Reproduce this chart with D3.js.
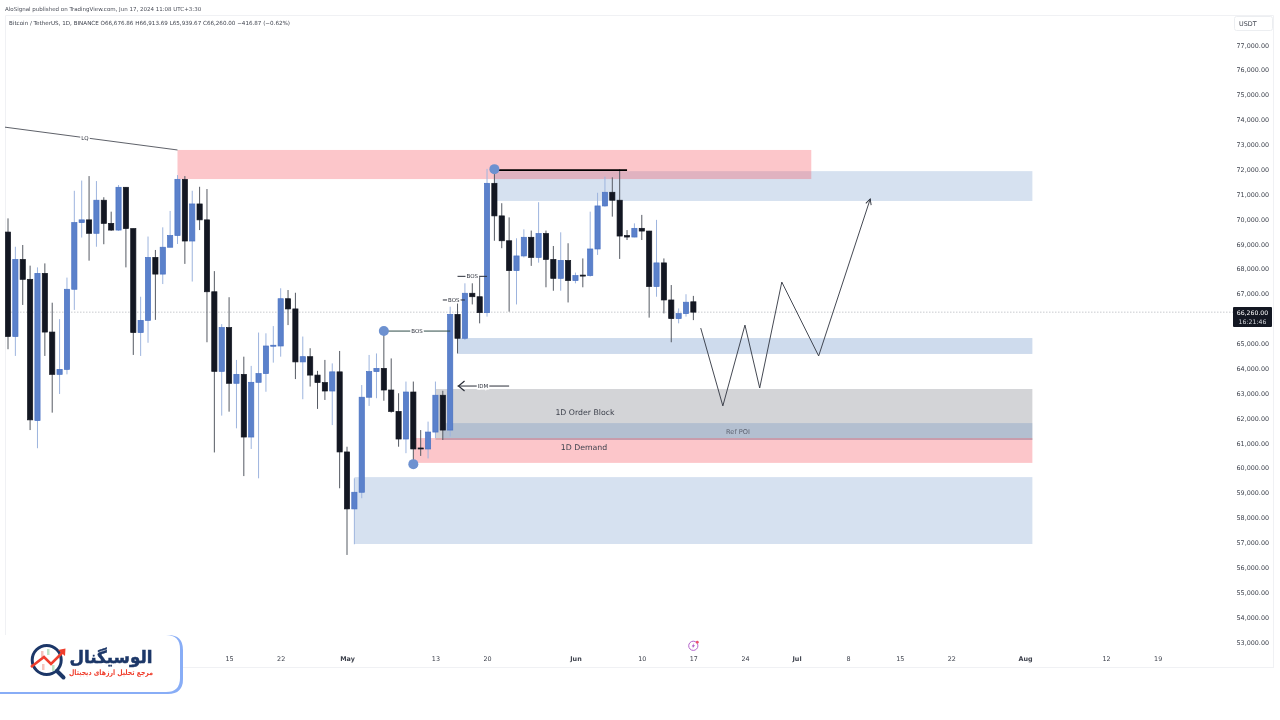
<!DOCTYPE html>
<html>
<head>
<meta charset="utf-8">
<title>BTCUSDT 1D</title>
<script src="https://cdn.jsdelivr.net/npm/d3@7"></script>
<style>
  html, body { margin: 0; padding: 0; background: #fff; }
  svg { display: block; font-family: "DejaVu Sans", sans-serif; filter: blur(0.3px); }
</style>
</head>
<body>
<div id="chart"></div>
<script>
// Daily candles, Mar 16 to Jun 17 2024
const firstDay = "2024-03-16";
const opens = [69480,65280,68380,67580,61900,67820,65460,63760,63960,67180,69860,69970,69430,70760,69830,69560,71280,69620,65440,65930,68460,67790,68870,69340,71600,69120,70610,69970,67080,63880,65640,63400,63760,61240,63440,63790,64900,64900,66800,66390,64260,64470,63730,63430,63090,63860,60640,58350,59020,62840,63870,64000,63130,62270,61160,63050,60800,60760,61440,62920,61520,66170,65210,67020,66880,66240,71440,70130,69130,67930,68520,69270,68460,69420,68380,67620,68340,67530,67750,67730,68800,70530,71080,70760,69340,69280,69630,69520,67290,68240,66750,66000,66200,66676.86];
const highs = [70030,68890,68960,68130,68060,68220,66640,65980,67650,71140,71550,71730,71530,70880,70300,71370,71290,69620,66880,69300,68760,69670,70330,71770,71730,71140,71300,71210,67910,65780,66860,64340,64470,64100,65440,65410,65700,67220,67150,67040,65280,64810,63900,64340,64200,64700,60850,59580,63330,64540,64600,65500,64400,63000,63470,63470,61520,61860,63470,63100,66480,66750,67420,67420,67690,72020,72020,70640,70070,69230,69590,69540,70680,69540,68920,69470,69030,67850,68420,70300,71060,71710,71680,72000,69560,69830,70170,69530,69970,68420,67350,66410,66980,66913.69];
const lows = [64770,64500,66550,61520,60790,64500,62220,62970,63760,66350,69260,68330,68890,68990,69530,69530,68060,64540,64500,65030,65950,67390,68870,69000,68200,67490,69560,65050,60620,62100,62260,61590,59670,60760,59580,63060,64230,64470,65740,63570,62760,63270,62370,62730,61720,59180,56500,56930,58780,62490,62800,62700,62220,60850,60590,60180,60480,60380,61190,61120,61260,64600,65140,66570,65810,66080,69130,68830,66280,66570,68460,68120,68250,67260,67120,67120,66650,67420,67260,67690,68560,70500,70100,68400,69160,69270,69160,66040,66880,66210,65050,65810,66080,65939.67];
const closes = [65280,68380,67580,61930,67820,65460,63760,63960,67180,69860,69970,69430,70760,69830,69560,71280,69620,65440,65930,68460,67790,68870,69340,71600,69120,70610,69970,67080,63880,65640,63400,63760,61240,63440,63790,64900,64930,66800,66390,64260,64470,63730,63430,63090,63860,60640,58350,59020,62840,63870,64000,63130,62270,61160,63050,60760,60760,61440,62920,61520,66170,65210,67020,66880,66240,71440,70130,69130,67930,68520,69270,68460,69420,68380,67620,68340,67530,67730,67730,68800,70530,71080,70760,69320,69280,69630,69520,67290,68240,66750,66000,66200,66660,66260];
const lastPrice = 66260;

// Axis ticks, 66,000 sits behind the last price tag
const priceTicks = [53000,54000,55000,56000,57000,58000,59000,60000,61000,62000,63000,64000,65000,67000,68000,69000,70000,71000,72000,73000,74000,75000,76000,77000];
const timeTickDates = ["2024-04-15","2024-04-22","2024-05-01","2024-05-13","2024-05-20","2024-06-01","2024-06-10","2024-06-17","2024-06-24","2024-07-01","2024-07-08","2024-07-15","2024-07-22","2024-08-01","2024-08-12","2024-08-19"];
const timeTickLabels = ["15","22","May","13","20","Jun","10","17","24","Jul","8","15","22","Aug","12","19"];
const monthLabels = ["May","Jun","Jul","Aug"];

// Drawn zones as [start, end, top price, bottom price]
const zoneGrey = ["2024-05-13","2024-08-02",63170,61120];
const zonePoi = ["2024-05-14","2024-08-02",61800,61120];
const zoneDemand = ["2024-05-10","2024-08-02",61200,60200];
const zoneRedTop = ["2024-04-08","2024-07-03",72780,71610];
const zoneBlueTop = ["2024-05-21","2024-08-02",71930,70730];
const zoneBlueMid = ["2024-05-16","2024-08-02",65220,64580];
const zoneBlueLow = ["2024-05-02","2024-08-02",59630,56940];

// Drawn lines and markers
const projectionDates = ["2024-06-18","2024-06-21","2024-06-24","2024-06-26","2024-06-29","2024-07-04","2024-07-11"];
const projectionPrices = [65620,62490,65740,63210,67470,64500,70810];
const lqDates = ["2024-03-15","2024-04-08"];
const lqPrices = [73720,72780];
const bosDates = [["2024-05-06","2024-05-15"],["2024-05-14","2024-05-17"],["2024-05-16","2024-05-20"]];
const bosPrices = [65500,66750,67700];
const highLineDates = ["2024-05-21","2024-06-08"];
const highLinePrice = 71970;
const idmDates = ["2024-05-16","2024-05-23"];
const idmPrice = 63290;
const dotDates = ["2024-05-06","2024-05-10","2024-05-21"];
const dotPrices = [65500,60150,72010];

const width = 1280;
const height = 720;

const parseDay = d3.utcParse("%Y-%m-%d");
const days = d3.utcDay.range(parseDay(firstDay), d3.utcDay.offset(parseDay(firstDay), opens.length));

const svg = d3.select("#chart")
    .append("svg")
    .attr("width", width)
    .attr("height", height);

// May 1 and Aug 1 label positions fix the time scale
const x = d3.scaleUtc()
    .domain([parseDay("2024-05-01"), parseDay("2024-08-01")])
    .range([347, 1025]);
const y = d3.scaleLinear()
    .domain([53000, 77000])
    .range([642, 45]);

const defs = svg.append("defs");
defs.append("clipPath").attr("id", "pane")
    .append("rect").attr("x", 5).attr("y", 15).attr("width", 1228).attr("height", 653);
defs.append("marker").attr("id", "open-arrow")
    .attr("viewBox", "0 0 10 10").attr("refX", 9).attr("refY", 5)
    .attr("markerUnits", "userSpaceOnUse").attr("markerWidth", 7).attr("markerHeight", 7)
    .attr("orient", "auto")
    .append("path").attr("d", "M1,1L9,5L1,9").attr("fill", "none").attr("stroke", "#2a2e39").attr("stroke-width", 1.3);

// Frame
const frameColor = "#f0f1f4";
svg.append("path")
    .attr("d", "M5.5,668V15.5H1273.5V668")
    .attr("fill", "none").attr("stroke", frameColor);
svg.append("line").attr("x1", 5).attr("x2", 1274).attr("y1", 667.5).attr("y2", 667.5).attr("stroke", frameColor);

const pane = svg.append("g").attr("clip-path", "url(#pane)");

// Last price line
pane.append("line")
    .attr("x1", 5).attr("x2", 1233)
    .attr("y1", y(lastPrice)).attr("y2", y(lastPrice))
    .attr("stroke", "#c8cacf").attr("stroke-dasharray", "1.5 1.5");

// Zones
const blueZone = "rgba(60,112,182,0.21)";
const redZone = "rgba(247,82,95,0.33)";
const greyZone = "rgba(120,123,134,0.33)";
function drawZone(z, fill) {
    pane.append("rect")
        .attr("x", x(parseDay(z[0])))
        .attr("y", y(z[2]))
        .attr("width", x(parseDay(z[1])) - x(parseDay(z[0])))
        .attr("height", y(z[3]) - y(z[2]))
        .attr("fill", fill);
}
drawZone(zoneBlueTop, blueZone);
drawZone(zoneRedTop, redZone);
drawZone(zoneBlueMid, "rgba(60,112,182,0.25)");
drawZone(zoneBlueLow, blueZone);
drawZone(zoneGrey, greyZone);
drawZone(zonePoi, blueZone);
drawZone(zoneDemand, redZone);

// Candles
const upColor = "#5b81cb";
const upEdge = "#4a72c2";
const upWick = "#9db4de";
const downColor = "#131722";
const downWick = "#555a63";
const candles = pane.append("g")
    .selectAll("g")
    .data(days)
    .enter()
    .append("g");

candles.append("line")
    .attr("x1", d => x(d))
    .attr("x2", d => x(d))
    .attr("y1", (d, i) => y(highs[i]))
    .attr("y2", (d, i) => y(lows[i]))
    .attr("stroke", (d, i) => closes[i] >= opens[i] ? upWick : downWick)
    .attr("stroke-width", 1);

candles.append("rect")
    .attr("x", d => x(d) - 2.6)
    .attr("width", 5.2)
    .attr("y", (d, i) => y(Math.max(opens[i], closes[i])))
    .attr("height", (d, i) => Math.max(1, Math.abs(y(opens[i]) - y(closes[i]))))
    .attr("fill", (d, i) => closes[i] >= opens[i] ? upColor : downColor)
    .attr("stroke", (d, i) => closes[i] >= opens[i] ? upEdge : downColor)
    .attr("stroke-width", 0.7);

// Annotation lines
const drawing = pane.append("g");
const inkColor = "#2a2e39";

function labelOnLine(px, py, text) {
    drawing.append("text")
        .attr("x", px).attr("y", py).attr("dy", "0.35em")
        .attr("text-anchor", "middle")
        .attr("font-size", 5.5)
        .attr("fill", inkColor)
        .attr("stroke", "#fff").attr("stroke-width", 3).attr("paint-order", "stroke")
        .text(text);
}

// LQ line
drawing.append("line")
    .attr("x1", x(parseDay(lqDates[0]))).attr("y1", y(lqPrices[0]))
    .attr("x2", x(parseDay(lqDates[1]))).attr("y2", y(lqPrices[1]))
    .attr("stroke", "#4c4f58").attr("stroke-width", 0.9);
labelOnLine(85, 138, "LQ");

// BOS lines
bosDates.forEach((pair, i) => {
    const x0 = x(parseDay(pair[0]));
    const x1 = x(parseDay(pair[1]));
    drawing.append("line")
        .attr("x1", x0).attr("x2", x1)
        .attr("y1", y(bosPrices[i])).attr("y2", y(bosPrices[i]))
        .attr("stroke", i === 0 ? "#2f4d49" : inkColor).attr("stroke-width", 1);
    labelOnLine((x0 + x1) / 2, y(bosPrices[i]), "BOS");
});

// Recent high
drawing.append("line")
    .attr("x1", x(parseDay(highLineDates[0]))).attr("x2", x(parseDay(highLineDates[1])))
    .attr("y1", y(highLinePrice)).attr("y2", y(highLinePrice))
    .attr("stroke", "#000").attr("stroke-width", 1.6);

// IDM arrow, tip on the left
const idmX = [x(parseDay(idmDates[0])), x(parseDay(idmDates[1]))];
drawing.append("line")
    .attr("x1", idmX[0]).attr("x2", idmX[1])
    .attr("y1", y(idmPrice)).attr("y2", y(idmPrice))
    .attr("stroke", inkColor).attr("stroke-width", 1);
drawing.append("path")
    .attr("d", d3.line()([[idmX[0] + 7, y(idmPrice) - 5], [idmX[0] + 1, y(idmPrice)], [idmX[0] + 7, y(idmPrice) + 5]]))
    .attr("fill", "none").attr("stroke", inkColor).attr("stroke-width", 1.2);
labelOnLine(483, y(idmPrice), "IDM");

// Projected path
const projectionLine = d3.line()
    .x(d => x(parseDay(d)))
    .y((d, i) => y(projectionPrices[i]));
drawing.append("path")
    .attr("d", projectionLine(projectionDates))
    .attr("fill", "none")
    .attr("stroke", "#30343f")
    .attr("stroke-width", 0.9)
    .attr("marker-end", "url(#open-arrow)");

// Swing markers
drawing.selectAll("circle")
    .data(dotDates)
    .enter()
    .append("circle")
    .attr("cx", d => x(parseDay(d)))
    .attr("cy", (d, i) => y(dotPrices[i]))
    .attr("r", 5)
    .attr("fill", "#6d91d0");

// Zone labels
const zoneText = drawing.append("g").attr("text-anchor", "middle").attr("fill", "#3e424d");
zoneText.append("text").attr("x", 585).attr("y", 415).attr("font-size", 7.8).attr("font-weight", 500).text("1D Order Block");
zoneText.append("text").attr("x", 738).attr("y", 434).attr("font-size", 6.6).attr("fill", "#5d6270").text("Ref POI");
zoneText.append("text").attr("x", 584).attr("y", 450).attr("font-size", 7.8).text("1D Demand");

// Price axis
const yAxis = d3.axisRight(y)
    .tickValues(priceTicks)
    .tickSize(0)
    .tickPadding(0)
    .tickFormat(d3.format(",.2f"));
const yAxisG = svg.append("g")
    .attr("transform", "translate(1236.5,0)")
    .call(yAxis);
yAxisG.select(".domain").remove();
yAxisG.selectAll("text")
    .attr("font-family", "'DejaVu Sans', sans-serif")
    .attr("font-size", 6.4)
    .attr("fill", "#3e424d");

// Time axis
const timeTicks = timeTickDates.map(parseDay);
const xAxis = d3.axisBottom(x)
    .tickValues(timeTicks)
    .tickSize(0)
    .tickPadding(0)
    .tickFormat((d, i) => timeTickLabels[i]);
const xAxisG = svg.append("g")
    .attr("transform", "translate(0,656)")
    .call(xAxis);
xAxisG.select(".domain").remove();
xAxisG.selectAll("text")
    .attr("font-family", "'DejaVu Sans', sans-serif")
    .attr("font-size", 6.4)
    .attr("fill", "#3e424d")
    .attr("font-weight", d => monthLabels.includes(timeTickLabels[timeTicks.indexOf(d)]) ? "bold" : "normal");

// Currency box
svg.append("rect")
    .attr("x", 1234.5).attr("y", 16.5).attr("width", 38).attr("height", 14).attr("rx", 2)
    .attr("fill", "#fff").attr("stroke", "#eceef1");
svg.append("text").attr("x", 1239).attr("y", 26).attr("font-size", 6.4).attr("fill", "#3e424d").text("USDT");

// Last price tag
svg.append("rect")
    .attr("x", 1233).attr("y", 307).attr("width", 39).attr("height", 20).attr("rx", 1)
    .attr("fill", "#131722");
const lastTag = svg.append("g").attr("text-anchor", "middle").attr("fill", "#fff").attr("font-size", 6.2);
lastTag.append("text").attr("x", 1252.5).attr("y", 315).text(d3.format(",.2f")(lastPrice));
lastTag.append("text").attr("x", 1252.5).attr("y", 324).attr("fill", "#d6d8dd").text("16:21:46");

// Header text
svg.append("text").attr("x", 5).attr("y", 10.5).attr("font-size", 5.5).attr("fill", "#4a4e59")
    .text("AloSignal published on TradingView.com, Jun 17, 2024 11:08 UTC+3:30");
svg.append("text").attr("x", 9).attr("y", 24.5).attr("font-size", 5.6).attr("fill", "#3e424d")
    .text("Bitcoin / TetherUS, 1D, BINANCE  O66,676.86  H66,913.69  L65,939.67  C66,260.00  \u2212416.87 (\u22120.62%)");

// Event icon
const eventIcon = svg.append("g").attr("transform", "translate(693.3,645.8)");
eventIcon.append("circle").attr("r", 4.6).attr("fill", "#fff").attr("stroke", "#b566cc").attr("stroke-width", 1);
eventIcon.append("path").attr("d", "M1,-3L-1.6,0.6H0L-1,3L1.7,-0.6H0Z").attr("fill", "#a94fc4");
eventIcon.append("circle").attr("cx", 4).attr("cy", -3.6).attr("r", 1.4).attr("fill", "#f0506e");

// Logo card
const logo = svg.append("g");
logo.append("path").attr("d", "M0,635H168Q183,635 183,650V679Q183,694 168,694H0Z").attr("fill", "#88adf6");
logo.append("path").attr("d", "M0,635H166Q180,635 180,649V678Q180,692 166,692H0Z").attr("fill", "#fff");
const navy = "#1c3768";
const logoRed = "#ef3e2d";
logo.append("circle").attr("cx", 46.7).attr("cy", 660).attr("r", 14.5)
    .attr("fill", "none").attr("stroke", navy).attr("stroke-width", 3);
logo.append("line").attr("x1", 57).attr("y1", 671).attr("x2", 63.5).attr("y2", 677.5)
    .attr("stroke", navy).attr("stroke-width", 4).attr("stroke-linecap", "round");
logo.append("rect").attr("x", 41).attr("y", 651).attr("width", 2.5).attr("height", 6).attr("fill", "#f6c4bd");
logo.append("rect").attr("x", 47).attr("y", 649).attr("width", 2.5).attr("height", 6).attr("fill", "#bfe3c6");
logo.append("rect").attr("x", 52).attr("y", 665).attr("width", 2.5).attr("height", 6).attr("fill", "#bfe3c6");
logo.append("rect").attr("x", 42).attr("y", 664).attr("width", 2.5).attr("height", 6).attr("fill", "#f6c4bd");
logo.append("path").attr("d", "M31,667L44,657L51,664L63,652")
    .attr("fill", "none").attr("stroke", logoRed).attr("stroke-width", 2.6);
logo.append("path").attr("d", "M65.5,648.5L65,656L58,650Z").attr("fill", logoRed);
logo.append("text").attr("x", 111).attr("y", 663).attr("text-anchor", "middle")
    .attr("font-size", 17).attr("font-weight", "bold").attr("fill", navy)
    .attr("stroke", navy).attr("stroke-width", 0.5)
    .attr("textLength", 83).attr("lengthAdjust", "spacingAndGlyphs")
    .text("الوسیگنال");
logo.append("text").attr("x", 111).attr("y", 675).attr("text-anchor", "middle")
    .attr("font-size", 7.5).attr("font-weight", "bold").attr("fill", logoRed)
    .attr("textLength", 84).attr("lengthAdjust", "spacingAndGlyphs")
    .text("مرجع تحلیل ارزهای دیجیتال");
</script>
</body>
</html>
